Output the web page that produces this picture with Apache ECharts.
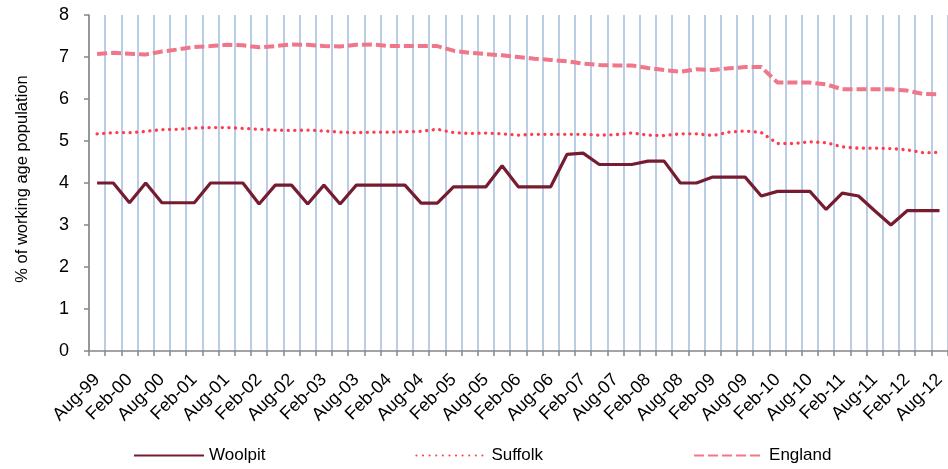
<!DOCTYPE html>
<html>
<head>
<meta charset="utf-8">
<script src="https://cdn.jsdelivr.net/npm/echarts@6/dist/echarts.min.js"></script>
<style>html,body{margin:0;padding:0;background:#fff;}#c{width:948px;height:469px;}</style>
</head>
<body>
<div id="c"></div>
<script>
var categories = ['Aug-99','Nov-99','Feb-00','May-00','Aug-00','Nov-00','Feb-01','May-01','Aug-01','Nov-01',
'Feb-02','May-02','Aug-02','Nov-02','Feb-03','May-03','Aug-03','Nov-03','Feb-04','May-04',
'Aug-04','Nov-04','Feb-05','May-05','Aug-05','Nov-05','Feb-06','May-06','Aug-06','Nov-06',
'Feb-07','May-07','Aug-07','Nov-07','Feb-08','May-08','Aug-08','Nov-08','Feb-09','May-09',
'Aug-09','Nov-09','Feb-10','May-10','Aug-10','Nov-10','Feb-11','May-11','Aug-11','Nov-11',
'Feb-12','May-12','Aug-12'];

var woolpit = [4.0, 4.0, 3.53, 4.0, 3.53, 3.53, 3.53, 4.0, 4.0, 4.0,
3.5, 3.95, 3.95, 3.5, 3.95, 3.5, 3.95, 3.95, 3.95, 3.95,
3.52, 3.52, 3.91, 3.91, 3.91, 4.41, 3.91, 3.91, 3.91, 4.68,
4.71, 4.44, 4.44, 4.44, 4.52, 4.52, 4.0, 4.0, 4.14, 4.14,
4.14, 3.69, 3.8, 3.8, 3.8, 3.37, 3.76, 3.69, 3.34, 3.0,
3.34, 3.34, 3.34];

var suffolk = [5.17, 5.2, 5.2, 5.23, 5.27, 5.28, 5.31, 5.32, 5.32, 5.30,
5.28, 5.26, 5.25, 5.26, 5.24, 5.21, 5.20, 5.21, 5.21, 5.22,
5.23, 5.28, 5.2, 5.18, 5.19, 5.17, 5.14, 5.16, 5.16, 5.16,
5.16, 5.14, 5.15, 5.19, 5.14, 5.13, 5.17, 5.17, 5.13, 5.21,
5.24, 5.2, 4.94, 4.94, 4.98, 4.96, 4.86, 4.83, 4.83, 4.82,
4.79, 4.72, 4.73];

var england = [7.07, 7.10, 7.08, 7.06, 7.13, 7.18, 7.24, 7.26, 7.29, 7.28,
7.23, 7.26, 7.30, 7.29, 7.26, 7.25, 7.29, 7.30, 7.26, 7.26,
7.26, 7.26, 7.15, 7.10, 7.07, 7.04, 7.00, 6.96, 6.93, 6.90,
6.84, 6.81, 6.80, 6.80, 6.74, 6.69, 6.65, 6.71, 6.69, 6.73,
6.76, 6.76, 6.39, 6.39, 6.39, 6.35, 6.23, 6.23, 6.23, 6.23,
6.20, 6.12, 6.11];

var yTicks = [0, 1, 2, 3, 4, 5, 6, 7, 8];
var yName = '% of working age population';
var seriesNames = ['Woolpit', 'Suffolk', 'England'];

var FONT = 'Liberation Sans, Arial, sans-serif';
var chart = echarts.init(document.getElementById('c'), null, {renderer: 'canvas'});
chart.setOption({
  animation: false,
  backgroundColor: '#ffffff',
  grid: {left: 89, right: 0, top: 15, bottom: 118, containLabel: false},
  legend: {
    left: 128, top: 442,
    itemWidth: 70, itemHeight: 10, itemGap: 150,
    itemStyle: {opacity: 0},
    textStyle: {fontFamily: FONT, fontSize: 17, color: '#000'},
    data: seriesNames
  },
  xAxis: {
    type: 'category',
    data: categories,
    boundaryGap: true,
    axisLine: {lineStyle: {color: '#868686', width: 1.5}},
    axisTick: {show: true, interval: 0, length: 5, lineStyle: {color: '#868686', width: 1.5}},
    axisLabel: {interval: 1, rotate: 45, margin: 26, fontFamily: FONT, fontSize: 18, color: '#000'},
    splitLine: {show: true, interval: 0, lineStyle: {color: '#B9CDE5', width: 2}}
  },
  yAxis: {
    type: 'value',
    min: yTicks[0], max: yTicks[yTicks.length - 1], interval: 1,
    name: yName,
    nameLocation: 'middle',
    nameGap: 58,
    nameTextStyle: {fontFamily: FONT, fontSize: 16.5, color: '#000', padding: [0, 0, 0, 8]},
    axisLine: {show: true, lineStyle: {color: '#868686', width: 1.5}},
    axisTick: {show: true, length: 5, lineStyle: {color: '#868686', width: 1.5}},
    axisLabel: {margin: 20, fontFamily: FONT, fontSize: 18, color: '#000'},
    splitLine: {show: false}
  },
  series: [
    {name: seriesNames[0], type: 'line', data: woolpit, symbol: 'none', z: 5,
     lineStyle: {color: '#761C30', width: 3.2}, itemStyle: {color: '#761C30'}},
    {name: seriesNames[1], type: 'line', data: suffolk, symbol: 'none', z: 4,
     lineStyle: {color: '#FF3D50', width: 3.3, type: [0.1, 6.5], cap: 'round'}, itemStyle: {color: '#FF3D50'}},
    {name: seriesNames[2], type: 'line', data: england, symbol: 'none', z: 3,
     lineStyle: {color: '#F0768A', width: 4, type: [10, 4]}, itemStyle: {color: '#F0768A'}}
  ]
});
</script>
</body>
</html>
